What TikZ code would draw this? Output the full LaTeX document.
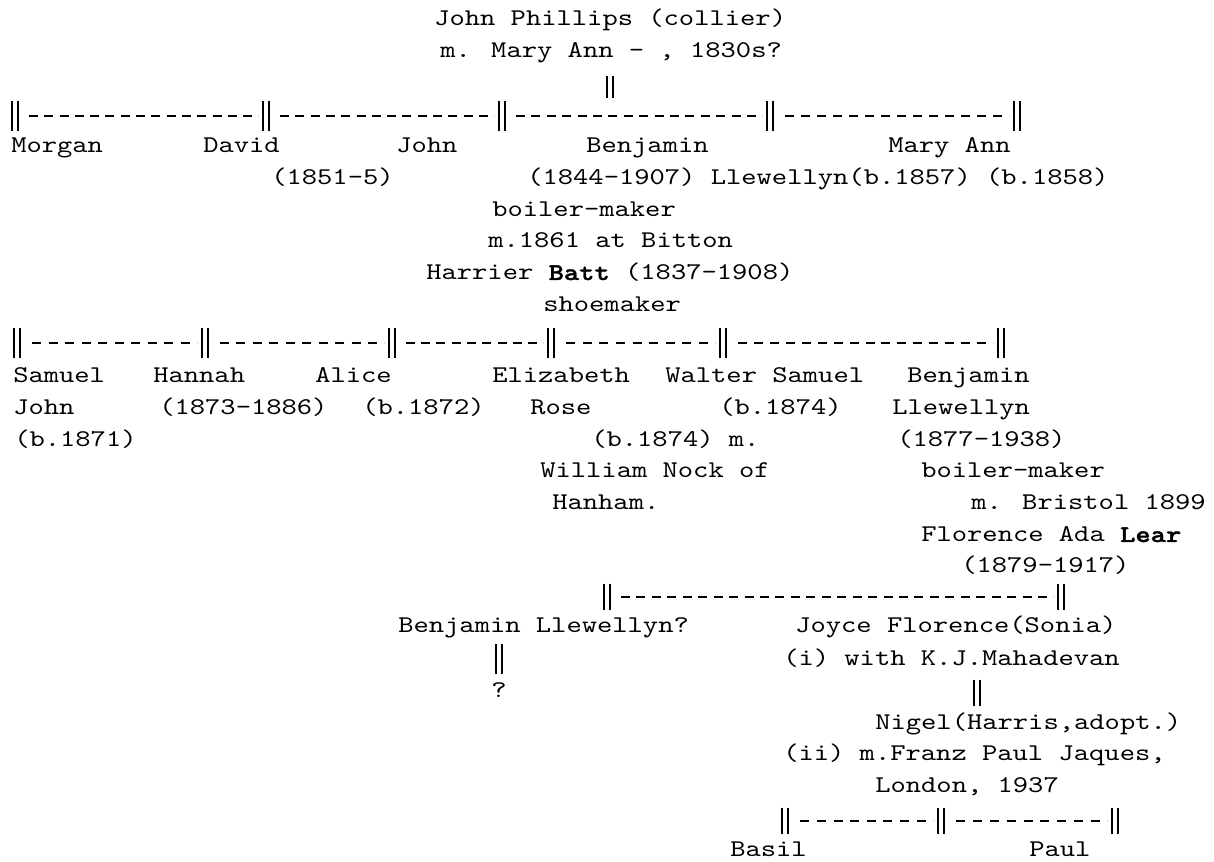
\documentclass[tikz,border=0pt]{standalone}
\usepackage{fontspec}
\newfontfamily\pedfont{lmmono10-regular.otf}[FakeStretch=1.214,BoldFont=lmmonolt10-bold.otf,BoldFeatures={FakeBold=1.5}]
\usetikzlibrary{decorations}

\begin{document}
\begin{tikzpicture}[x=0.75pt, y=-0.75pt,
        who/.style={anchor=base west,inner sep=0pt,text=black,font=\pedfont\fontsize{18}{22}\selectfont},
        dbar/.style={minimum width=11pt,minimum height=22.5pt,inner sep=0pt,
          path picture={\draw[line width=1.5pt]
            ([xshift=-2pt]path picture bounding box.north) -- ([xshift=-2pt]path picture bounding box.south)
            ([xshift=2pt]path picture bounding box.north) -- ([xshift=2pt]path picture bounding box.south);}},
        kin/.style={line width=1pt,dash pattern=on 6.75pt off 4.7pt,dash expand off}]
        \useasboundingbox (0,0) rectangle (1214,862);
        % John Phillips and his children
        \node[who] at (434,26)  (jp) {John Phillips (collier)};
        \node[who] at (440,58)  (jpm) {m. Mary Ann - , 1830s?};
        \node[dbar,minimum height=16pt] at (610,87) (jpd) {};
        \node[dbar] at (15,116)   (a1) {};
        \node[dbar] at (266,116)  (a2) {};
        \node[dbar] at (502,116)  (a3) {};
        \node[dbar] at (770,116)  (a4) {};
        \node[dbar] at (1017,116) (a5) {};
        \draw[kin] (a1) -- (a2);
        \draw[kin] (a2) -- (a3);
        \draw[kin] (a3) -- (a4);
        \draw[kin] (a4) -- (a5);
        \node[who] at (11,153)  (morgan) {Morgan};
        \node[who] at (203,153) (david) {David};
        \node[who] at (396,153) (john) {John};
        \node[who] at (586,153) (benj) {Benjamin};
        \node[who] at (888,153) (maryann) {Mary Ann};
        \node[who] at (271,185) (davidd) {(1851–5)};
        \node[who] at (527,185) (benjd) {(1844–1907) Llewellyn(b.1857) (b.1858)};
        \node[who] at (492,217) (benjj) {boiler-maker};
        \node[who] at (488,248) (benjm) {m.1861 at Bitton};
        \node[who] at (426,280) (harr) {Harrier \textbf{Batt} (1837–1908)};
        \node[who] at (543,312) (harrj) {shoemaker};
        % children of Benjamin
        \node[dbar] at (17,343)   (b1) {};
        \node[dbar] at (205,343)  (b2) {};
        \node[dbar] at (392,343)  (b3) {};
        \node[dbar] at (551,343)  (b4) {};
        \node[dbar] at (723,343)  (b5) {};
        \node[dbar] at (1001,343) (b6) {};
        \draw[kin] (b1) -- (b2);
        \draw[kin] (b2) -- (b3);
        \draw[kin] (b3) -- (b4);
        \draw[kin] (b4) -- (b5);
        \draw[kin] (b5) -- (b6);
        \node[who] at (13,383)  (sam) {Samuel};
        \node[who] at (153,383) (hannah) {Hannah};
        \node[who] at (315,383) (alice) {Alice};
        \node[who] at (492,383) (eliz) {Elizabeth};
        \node[who] at (665,383) (walter) {Walter Samuel};
        \node[who] at (907,383) (benj2) {Benjamin};
        \node[who] at (13,415)  (sam2) {John};
        \node[who] at (159,415) (hannahd) {(1873–1886)};
        \node[who] at (362,415) (aliced) {(b.1872)};
        \node[who] at (530,415) (eliz2) {Rose};
        \node[who] at (719,415) (walterd) {(b.1874)};
        \node[who] at (892,415) (benj2a) {Llewellyn};
        \node[who] at (14,447)  (samd) {(b.1871)};
        \node[who] at (591,447) (elizd) {(b.1874) m.};
        \node[who] at (897,447) (benj2d) {(1877–1938)};
        \node[who] at (540,478) (elizm) {William Nock of};
        \node[who] at (921,478) (benj2j) {boiler-maker};
        \node[who] at (552,510) (elizp) {Hanham.};
        \node[who] at (971,510) (benj2m) {m. Bristol 1899};
        \node[who] at (921,542) (flor) {Florence Ada \textbf{Lear}};
        \node[who] at (961,573) (flord) {(1879–1917)};
        % children of Benjamin Llewellyn
        \node[dbar,minimum height=20pt] at (607,597)  (c1) {};
        \node[dbar,minimum height=20pt] at (1061,597) (c2) {};
        \draw[kin] (c1) -- (c2);
        \node[who] at (398,633) (benj3) {Benjamin Llewellyn?};
        \node[who] at (795,633) (joyce) {Joyce Florence(Sonia)};
        \node[dbar] at (499,659) (benj3d) {};
        \node[who,anchor=base] at (499,697) (benj3q) {?};
        \node[who] at (783,665) (joycem) {(i) with K.J.Mahadevan};
        \node[dbar,minimum height=20pt] at (977,693) (joyced) {};
        \node[who] at (875,729) (nigel) {Nigel(Harris,adopt.)};
        \node[who] at (783,760) (joycem2) {(ii) m.Franz Paul Jaques,};
        \node[who] at (875,792) (joycep) {London, 1937};
        \node[dbar,minimum height=20pt] at (785,821)  (d1) {};
        \node[dbar,minimum height=20pt] at (941,821)  (d2) {};
        \node[dbar,minimum height=20pt] at (1115,821) (d3) {};
        \draw[kin] (d1) -- (d2);
        \draw[kin] (d2) -- (d3);
        \node[who] at (730,856)  (basil) {Basil};
        \node[who] at (1029,856) (paul) {Paul};
\end{tikzpicture}
\end{document}
